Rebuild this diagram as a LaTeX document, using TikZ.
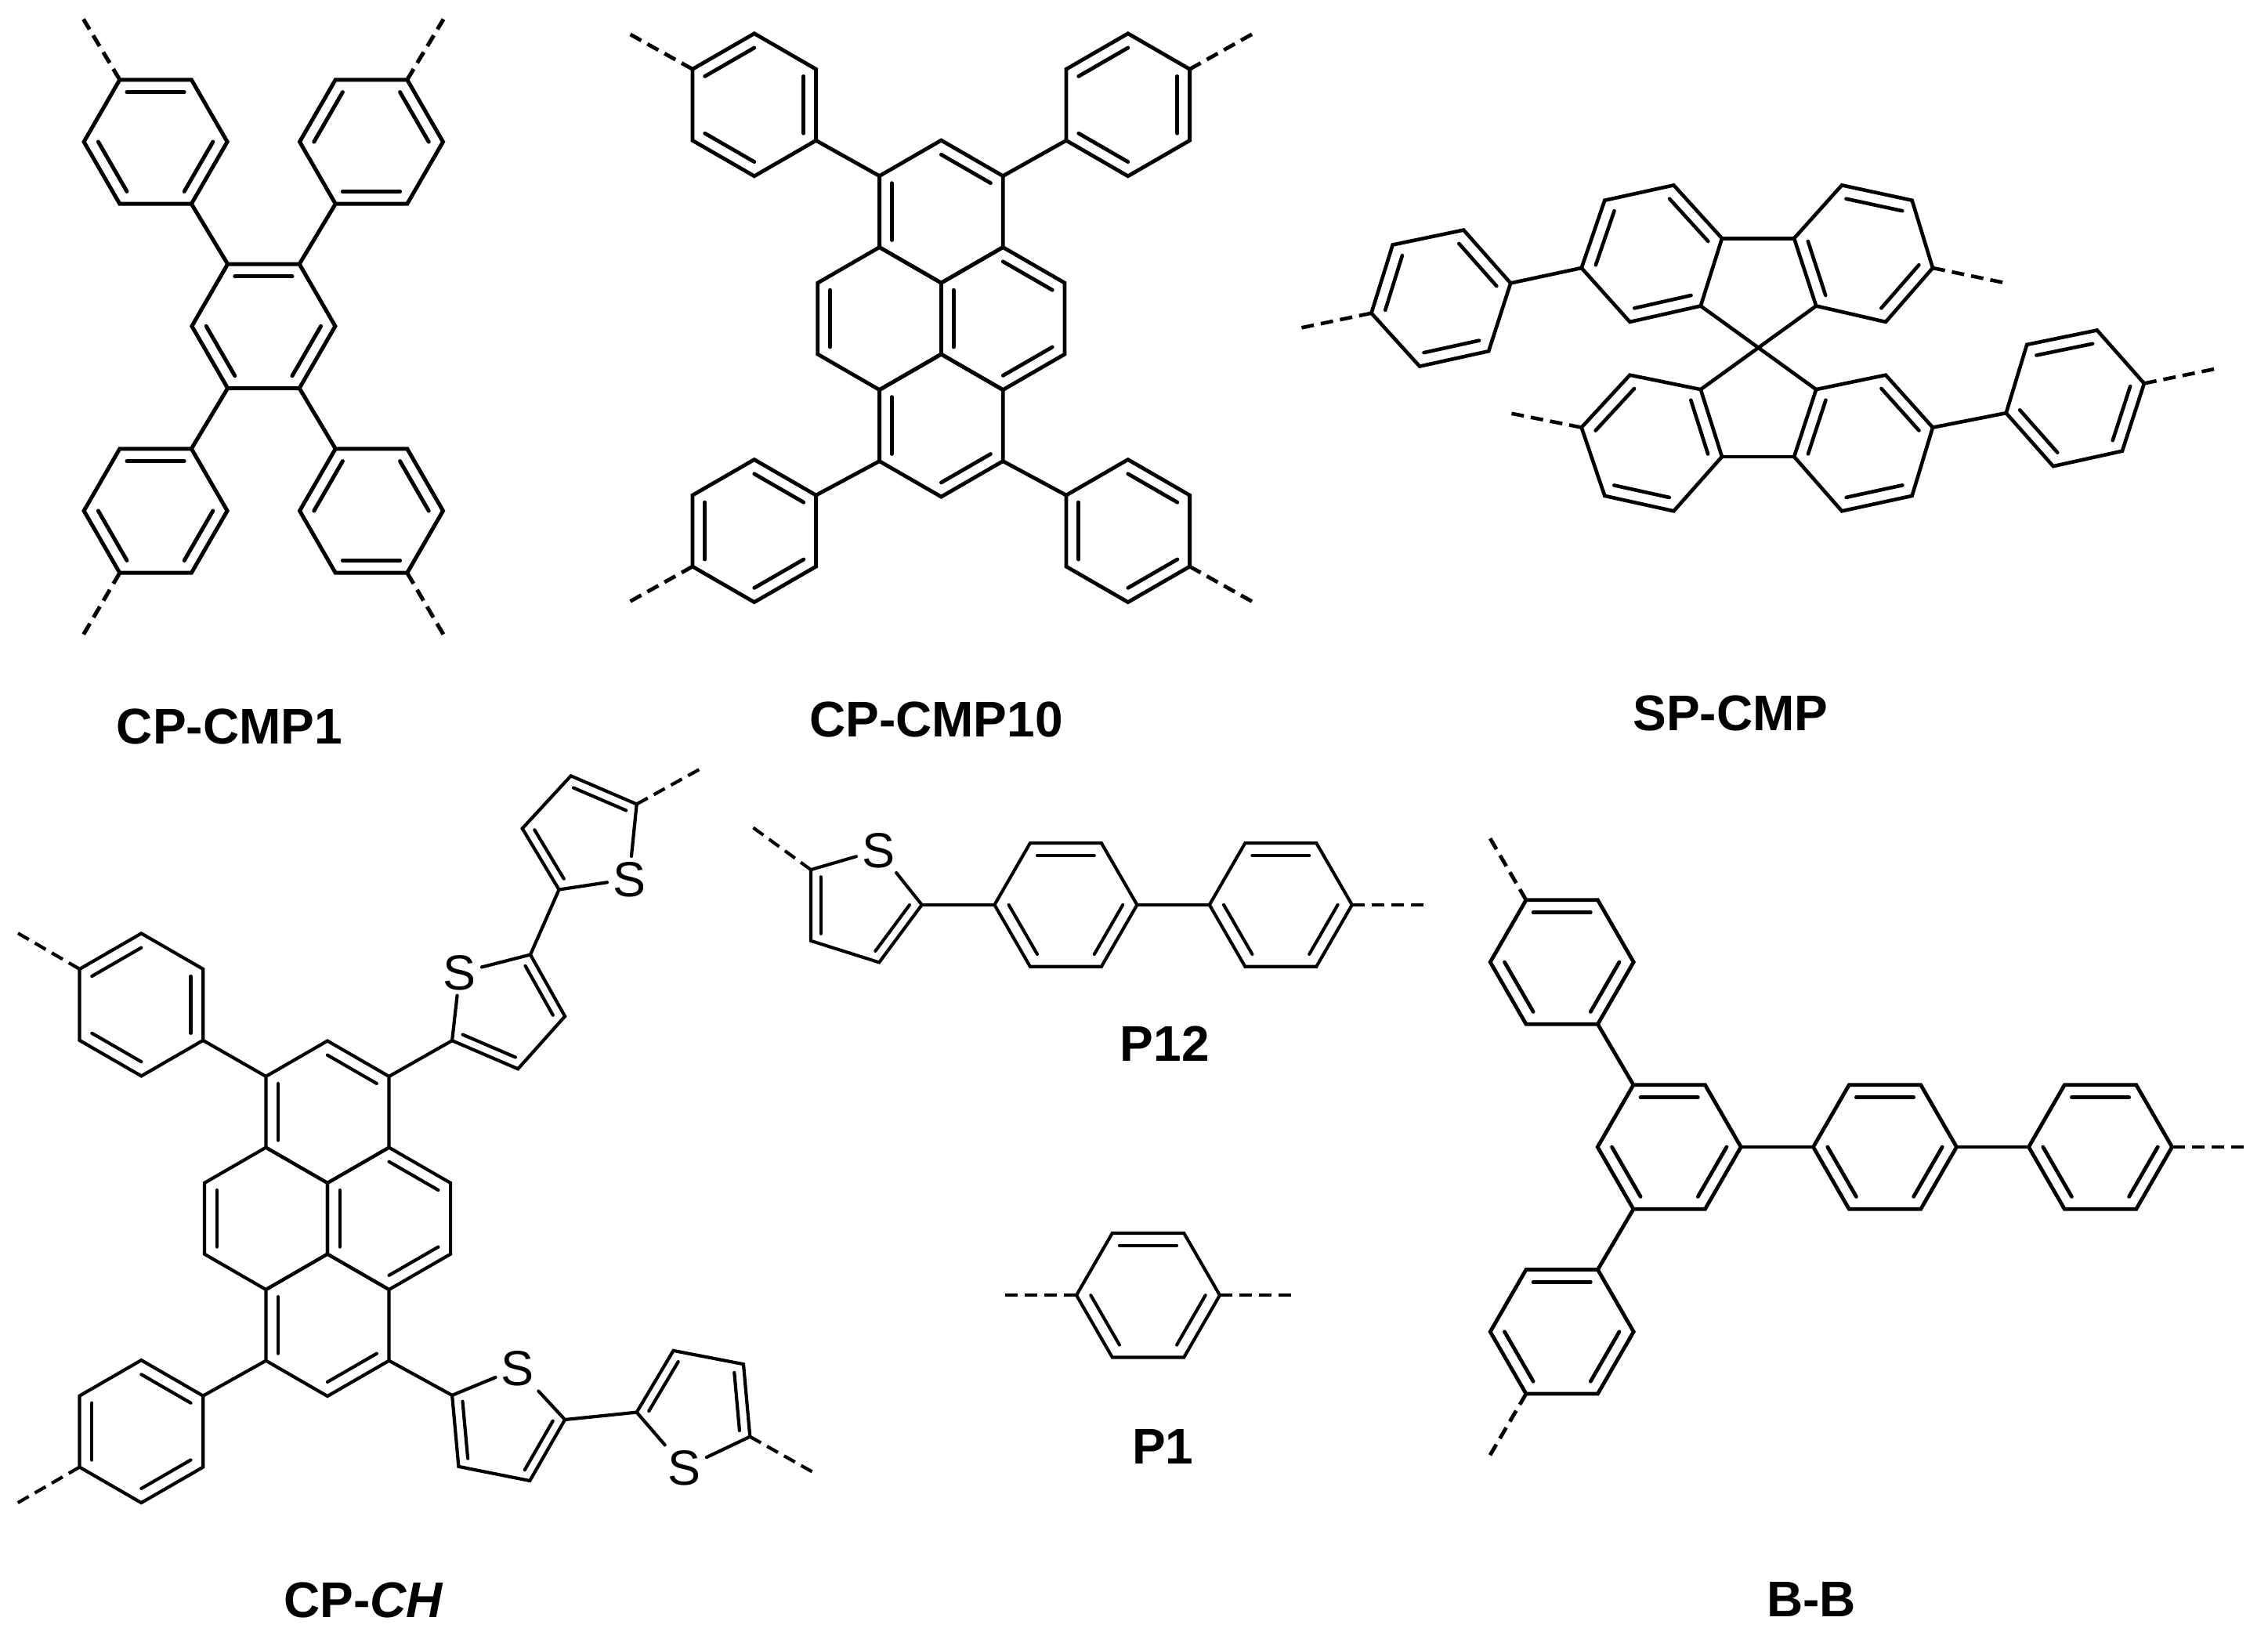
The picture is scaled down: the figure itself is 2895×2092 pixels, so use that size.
\documentclass[tikz,border=0pt]{standalone}
\usepackage{fontspec}
\setmainfont{Liberation Sans}
\usetikzlibrary{calc}
\tikzset{
  bond/.style={draw=black,line cap=round,line join=miter},
  dbl/.style={draw=black,line cap=round},
  open/.style={draw=black,line cap=butt,dash pattern=on 16pt off 9pt},
  sulfur/.style={inner sep=5pt,text height=44pt,text depth=0pt,font=\fontsize{63}{68}\selectfont},
  title/.style={inner sep=0pt,text height=46pt,text depth=0pt,font=\fontsize{64}{70}\selectfont\bfseries}
}
\def\fr{0.2}
% inner lines of the double bonds of a six-membered ring
\newcommand{\inlines}[2]{%
  \foreach \k in {#2}{%
    \pgfmathtruncatemacro\nx{mod(\k,6)+1}%
    \draw[dbl] ($(#1\k)!\fr!(#1c)$) -- ($(#1\nx)!\fr!(#1c)$);}}
% regular ring: name, cx, cy, radius, start angle (clockwise on screen), double edges
\newcommand{\ring}[6]{%
  \coordinate (#1c) at (#2,#3);
  \foreach \i in {1,...,6}{%
    \pgfmathsetmacro\ang{#5+60*(\i-1)}%
    \path (#2,#3) ++(\ang:#4) coordinate (#1\i);}
  \draw[bond] (#11)--(#12)--(#13)--(#14)--(#15)--(#16)--cycle;
  \inlines{#1}{#6}}
% ring given by its six vertices
\newcommand{\skewring}[3]{%
  \foreach \x/\y [count=\i] in {#2}{\coordinate (#1\i) at (\x,\y);}
  \coordinate (#1c) at ($(#11)!.5!(#14)$);
  \draw[bond] (#11)--(#12)--(#13)--(#14)--(#15)--(#16)--cycle;
  \inlines{#1}{#3}}
% thiophene: name, four carbons (1 and 4 next to S), S position
\newcommand{\thio}[4]{%
  \foreach \x/\y [count=\i] in {#2}{\coordinate (#1\i) at (\x,\y);}
  \node[sulfur] (#1S) at (#3,#4) {S};
  \coordinate (#1c) at ($0.2*(#11)+0.2*(#12)+0.2*(#13)+0.2*(#14)+0.2*(#1S.center)$);
  \draw[bond] (#1S)--(#11)--(#12)--(#13)--(#14)--(#1S);
  \draw[dbl] ($(#11)!\fr!(#1c)$) -- ($(#12)!\fr!(#1c)$);
  \draw[dbl] ($(#13)!\fr!(#1c)$) -- ($(#14)!\fr!(#1c)$);}
% pyrene core: name, cx, cy, radius
\newcommand{\pyrene}[4]{%
  \pgfmathsetmacro\pa{#4*0.866}%
  \ring{#1t}{#2}{#3-1.5*#4}{#4}{30}{3,5}
  \ring{#1l}{#2-\pa}{#3}{#4}{30}{3}
  \ring{#1r}{#2+\pa}{#3}{#4}{30}{1,3,5}
  \ring{#1b}{#2}{#3+1.5*#4}{#4}{30}{1,3}}
\newcommand{\bnd}[2]{\draw[bond] (#1)--(#2);}
\newcommand{\opn}[2]{\draw[open] (#1)--(#2);}
\begin{document}
\begin{tikzpicture}[x=1pt,y=-1pt]
\useasboundingbox (0,0) rectangle (2895,2092);
\fill[white] (0,0) rectangle (2895,2092);

% CP-CMP1
\begin{scope}[line width=5pt]
\ring{ca}{198.6}{181}{91.5}{0}{1,3,5}
\ring{cb}{474}{181}{91.5}{0}{2,4,6}
\ring{cc}{336.4}{416.3}{91.5}{0}{1,3,5}
\ring{cd}{198.6}{652}{91.5}{0}{1,3,5}
\ring{ce}{474}{652}{91.5}{0}{2,4,6}
\bnd{ca2}{cc5}\bnd{cb3}{cc6}\bnd{cd6}{cc3}\bnd{ce5}{cc2}
\coordinate (cw1) at (106.5,24.5);
\coordinate (cw2) at (566.1,24.5);
\coordinate (cw3) at (106.5,810);
\coordinate (cw4) at (566.1,810);
\opn{ca5}{cw1}\opn{cb6}{cw2}\opn{cd3}{cw3}\opn{ce2}{cw4}
\end{scope}
\node[title] (lcmp1) at (293,926) {CP-CMP1};

% CP-CMP10
\begin{scope}[line width=4.8pt]
\pyrene{p}{1201.4}{406.6}{91}
\ring{pa}{962.8}{133.8}{91}{30}{2,4,6}
\ring{pB}{1439.8}{133.8}{91}{30}{2,4,6}
\ring{pC}{962.8}{677.6}{91}{30}{1,3,5}
\ring{pD}{1439.8}{677.6}{91}{30}{1,3,5}
\bnd{pa1}{pt4}\bnd{pB3}{pt6}\bnd{pC6}{pb3}\bnd{pD4}{pb1}
\coordinate (pw1) at (802.7,42.9);
\coordinate (pw2) at (1599.5,42.9);
\coordinate (pw3) at (802.7,768.5);
\coordinate (pw4) at (1599.5,768.5);
\opn{pa4}{pw1}\opn{pB6}{pw2}\opn{pC3}{pw3}\opn{pD1}{pw4}
\end{scope}
\node[title] (lcmp10) at (1195,917) {CP-CMP10};

% SP-CMP
\begin{scope}[line width=4.6pt]
\skewring{sA}{2048.3/255.7,2136.4/236.4,2198/304.2,2170.8/390.5,2080.4/410.9,2018.7/342}{2,4,6}
\skewring{sB}{2290.1/304.2,2351/236.4,2440.6/255.7,2467/342,2407/410.9,2318.2/390.5}{2,4,6}
\skewring{sC}{2080.4/478.7,2170.8/497.1,2198/582.9,2136.4/652.3,2048.3/632.9,2018.7/545.6}{2,4,6}
\skewring{sD}{2318.2/497.1,2407/478.7,2467/545.6,2440.6/632.9,2351/652.3,2290.1/582.9}{2,4,6}
\skewring{sE}{1777.7/312.5,1868.2/293.6,1928.2/361.4,1900.2/448.2,1812.1/467.6,1750.5/399.7}{2,4,6}
\skewring{sF}{2587.2/439.9,2676.8/421.5,2736.9/489.4,2708.9/575.7,2620.8/595.1,2560.7/527.2}{1,3,5}
\coordinate (sX) at (2244.5,443.8);
\bnd{sE3}{sA6}\bnd{sD3}{sF6}\bnd{sA3}{sB1}\bnd{sC3}{sD6}
\bnd{sA4}{sX}\bnd{sB6}{sX}\bnd{sC2}{sX}\bnd{sD1}{sX}
\coordinate (sw1) at (1657.6,419.1);
\coordinate (sw2) at (2560.7,361.4);
\coordinate (sw3) at (1926.6,527.2);
\coordinate (sw4) at (2829,470.5);
\opn{sE6}{sw1}\opn{sB4}{sw2}\opn{sC6}{sw3}\opn{sF3}{sw4}
\end{scope}
\node[title] (lsp) at (2209,909) {SP-CMP};

% CP-CH
\begin{scope}[line width=4.2pt]
\pyrene{h}{418}{1555.3}{90.7}
\ring{hA}{180.4}{1282.4}{91}{30}{2,4,6}
\ring{hB}{180.4}{1827.1}{91}{30}{1,3,5}
\thio{hC}{577.1/1328.2,661.2/1364.3,721.1/1297.2,677/1218.5}{586.8}{1241.6}
\thio{hD}{713.5/1135.5,666.7/1057.5,728.7/990.3,812.7/1026.4}{803}{1122}
\thio{hE}{577.1/1780.9,585.4/1871.9,676.3/1890,721.1/1812}{660.5}{1746.5}
\thio{hF}{812.7/1802.6,859.5/1723.9,949/1741.2,957.3/1833.7}{873.8}{1873.4}
\bnd{hA1}{ht4}\bnd{hB6}{hb3}\bnd{ht6}{hC1}\bnd{hb1}{hE1}\bnd{hC4}{hD1}\bnd{hE4}{hF1}
\coordinate (hw1) at (22.7,1191);
\coordinate (hw2) at (22.7,1918.1);
\coordinate (hw3) at (893.3,981.7);
\coordinate (hw4) at (1036.5,1878.4);
\opn{hA4}{hw1}\opn{hB3}{hw2}\opn{hD4}{hw3}\opn{hF4}{hw4}
\end{scope}
\node[title] (lch) at (464,2041) {CP-\textit{CH}};

% P12
\begin{scope}[line width=4.1pt]
\ring{tA}{1360.4}{1154.9}{91}{0}{1,3,5}
\ring{tB}{1634.8}{1154.9}{91}{0}{1,3,5}
\thio{tC}{1176.7/1154.9,1122.2/1228.4,1035/1200.8,1035/1110.1}{1121}{1085}
\bnd{tC1}{tA4}\bnd{tA1}{tB4}
\coordinate (tw1) at (1819.7,1154.9);
\coordinate (tw2) at (960.3,1055.6);
\opn{tB1}{tw1}\opn{tC4}{tw2}
\end{scope}
\node[title] (lp12) at (1486.7,1331.7) {P12};

% P1
\begin{scope}[line width=4.1pt]
\ring{oA}{1465.5}{1653.2}{91.5}{0}{1,3,5}
\coordinate (ow1) at (1280,1653.2);
\coordinate (ow2) at (1650,1653.2);
\opn{oA4}{ow1}\opn{oA1}{ow2}
\end{scope}
\node[title] (lp1) at (1484.4,1845.5) {P1};

% B-B
\begin{scope}[line width=4.8pt]
\ring{bA}{1993.7}{1228}{91.5}{0}{1,3,5}
\ring{bB}{1993.7}{1699.8}{91.5}{0}{1,3,5}
\ring{bC}{2130.7}{1464}{91.5}{0}{1,3,5}
\ring{bD}{2406}{1464}{91.5}{0}{1,3,5}
\ring{bE}{2681}{1464}{91.5}{0}{1,3,5}
\bnd{bA2}{bC5}\bnd{bB6}{bC3}\bnd{bC1}{bD4}\bnd{bD1}{bE4}
\coordinate (bw1) at (1902,1070);
\coordinate (bw2) at (1902,1857.3);
\coordinate (bw3) at (2865.3,1464);
\opn{bA5}{bw1}\opn{bB3}{bw2}\opn{bE1}{bw3}
\end{scope}
\node[title] (lbb) at (2312,2040) {B-B};
\end{tikzpicture}
\end{document}
